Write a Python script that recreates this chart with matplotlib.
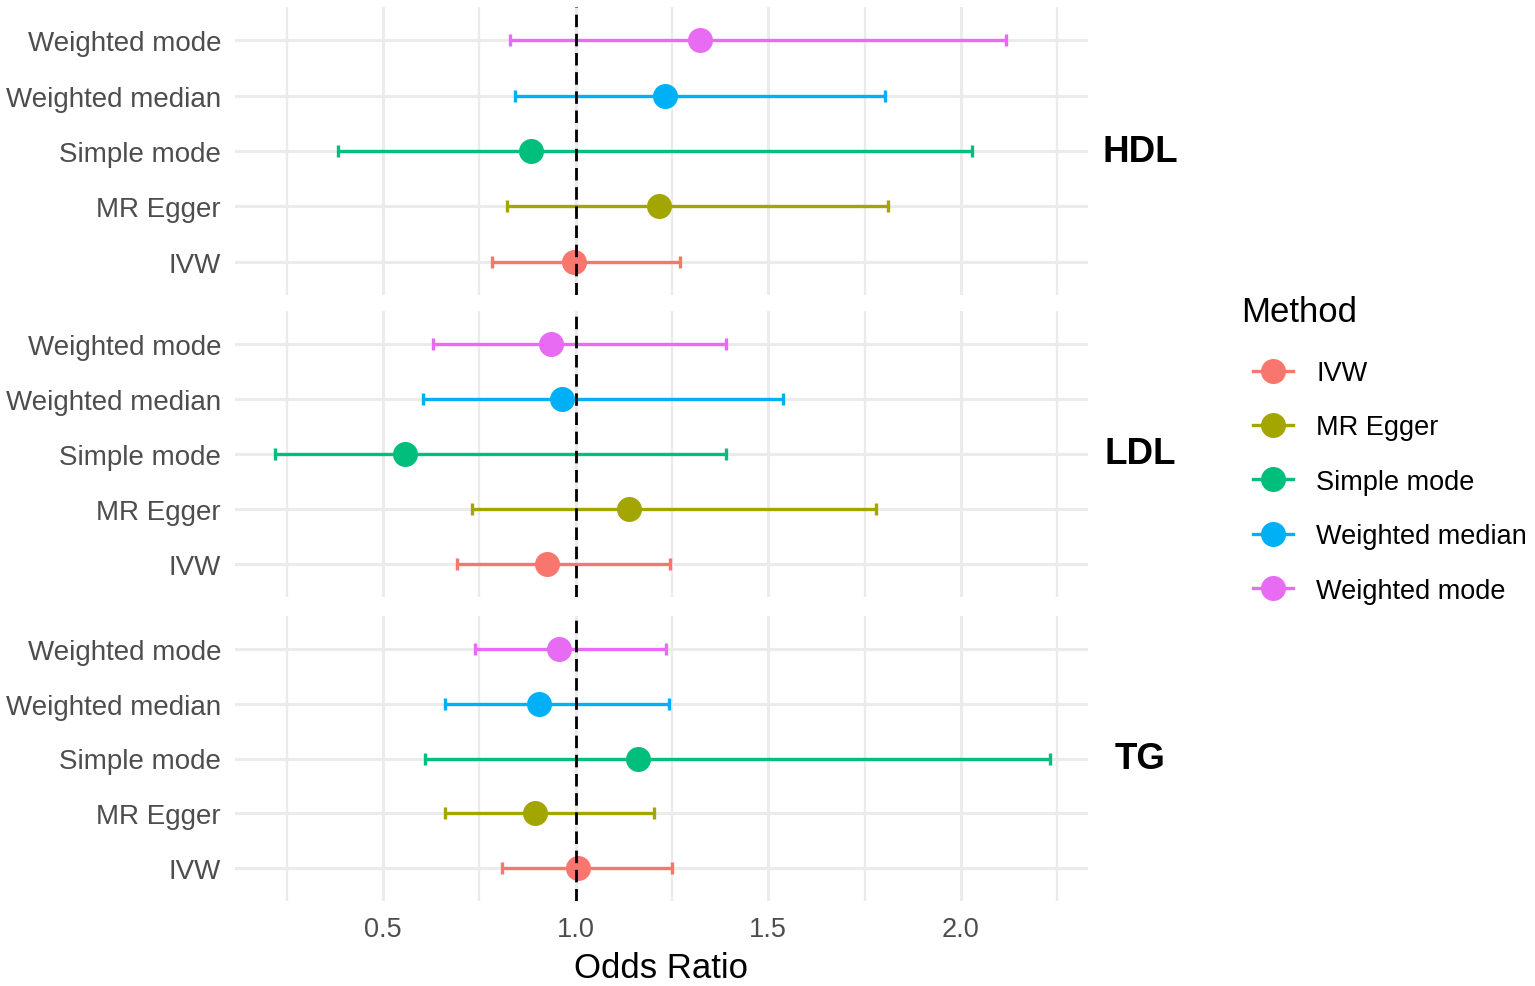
import matplotlib
matplotlib.use("Agg")
import matplotlib.pyplot as plt
from matplotlib.lines import Line2D
from matplotlib.ticker import MultipleLocator

plt.rcParams['font.family'] = ['Liberation Sans', 'DejaVu Sans']

methods = ["IVW", "MR Egger", "Simple mode", "Weighted median", "Weighted mode"]
colors = ["#F8766D", "#A3A500", "#00BF7D", "#00B0F6", "#E76BF3"]
outcomes = ["HDL", "LDL", "TG"]

# odds ratio and 95% CI per outcome, same order as methods
hdl_or = [0.995, 1.216, 0.883, 1.231, 1.322]
hdl_lo = [0.782, 0.821, 0.384, 0.842, 0.829]
hdl_hi = [1.270, 1.810, 2.029, 1.803, 2.117]

ldl_or = [0.925, 1.138, 0.556, 0.964, 0.935]
ldl_lo = [0.691, 0.730, 0.221, 0.605, 0.631]
ldl_hi = [1.244, 1.779, 1.390, 1.538, 1.390]

tg_or = [1.005, 0.894, 1.161, 0.906, 0.956]
tg_lo = [0.808, 0.662, 0.610, 0.662, 0.738]
tg_hi = [1.249, 1.203, 2.231, 1.242, 1.234]

data = {
    "HDL": (hdl_or, hdl_lo, hdl_hi),
    "LDL": (ldl_or, ldl_lo, ldl_hi),
    "TG": (tg_or, tg_lo, tg_hi),
}

fig = plt.figure(figsize=(15.35, 9.87), dpi=100)

left, right = 235 / 1535, 1088 / 1535
panels = [(8, 296), (312, 598), (617, 902)]

grid_col = "#EBEBEB"
for name, (top, bot) in zip(outcomes, panels):
    ax = fig.add_axes([left, 1 - bot / 987, right - left, (bot - top) / 987])
    orv, lo, hi = data[name]
    for i, m in enumerate(methods):
        y = i + 1
        ax.errorbar(orv[i], y, xerr=[[orv[i] - lo[i]], [hi[i] - orv[i]]],
                    fmt='none', ecolor=colors[i], elinewidth=2.4,
                    capsize=4.2, capthick=2.4, zorder=3)
        ax.plot(orv[i], y, 'o', color=colors[i], markersize=18, zorder=4,
                markeredgewidth=0)
    ax.axvline(1.0, color="black", linestyle=(0, (4.5, 2.4)), linewidth=2.0, zorder=5)

    ax.set_xlim(0.116, 2.33)
    ax.set_ylim(0.4, 5.6)
    ax.xaxis.set_major_locator(MultipleLocator(0.5))
    ax.xaxis.set_minor_locator(MultipleLocator(0.25))
    ax.set_yticks(range(1, 6))
    ax.set_yticklabels(methods)
    ax.grid(True, which='major', color=grid_col, linewidth=2.2, zorder=0)
    ax.grid(True, which='minor', axis='x', color=grid_col, linewidth=1.7, zorder=0)
    ax.set_axisbelow(True)
    for s in ax.spines.values():
        s.set_visible(False)
    ax.tick_params(axis='both', which='both', length=0)
    ax.tick_params(axis='y', labelsize=20, labelcolor="#4D4D4D", pad=10)
    ax.tick_params(axis='x', labelsize=19.5, labelcolor="#4D4D4D", pad=11)
    if name != "TG":
        ax.tick_params(axis='x', labelbottom=False)
    else:
        ax.set_xlabel("Odds Ratio", fontsize=25, labelpad=6)

    # facet strip label on the right
    ax.text(1.0 + (1140 - 1088) / (1088 - 235), 0.5, name, transform=ax.transAxes,
            fontsize=26.5, fontweight='bold', ha='center', va='center')

handles = [Line2D([0], [0], color=c, marker='o', markersize=18, linewidth=2.4,
                  markeredgewidth=0) for c in colors]
leg = fig.legend(handles, methods, title="Method", loc='upper left',
                 bbox_to_anchor=(1242 / 1535, 1 - 288 / 987), frameon=False,
                 fontsize=19.5, title_fontsize=25, handlelength=1.5,
                 labelspacing=1.05, handletextpad=0.85, borderaxespad=0)
leg._legend_box.align = "left"
leg._legend_box.sep = 21
# legend title drawn separately so it sits a bit further left than the keys
leg.get_title().set_alpha(0)
fig.text(1241 / 1535, 1 - 313 / 987, "Method", fontsize=25, ha='left', va='center')

fig.savefig("out.png", dpi=100)
